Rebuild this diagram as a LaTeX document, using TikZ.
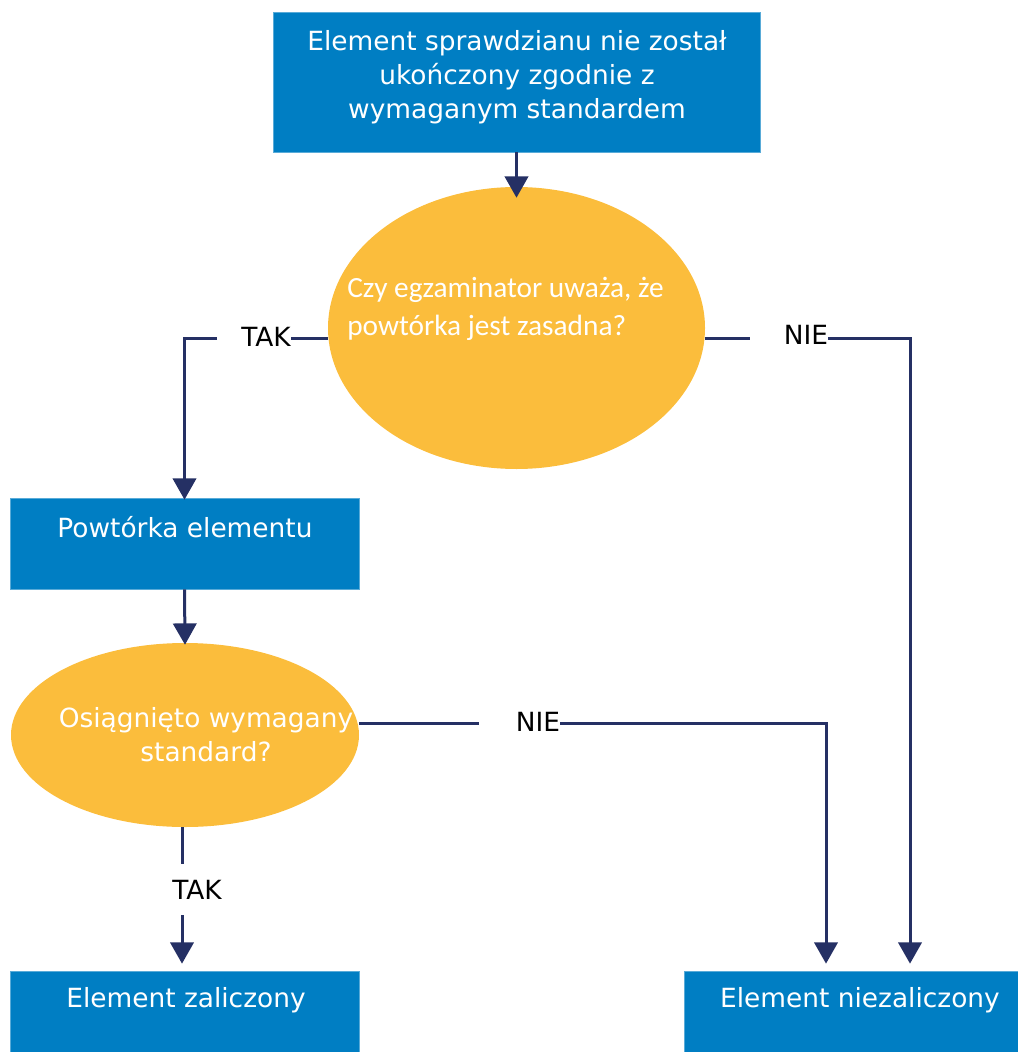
\documentclass[tikz,border=0pt]{standalone}
\usepackage{fontspec}
\setmainfont{DejaVu Sans}
\newfontfamily\calib{Carlito}
\usetikzlibrary{shapes.geometric,arrows.meta}
\definecolor{boxblue}{RGB}{0,126,195}
\definecolor{decyellow}{RGB}{251,189,60}
\definecolor{navy}{RGB}{37,48,100}
\tikzset{
  pbox/.style={rectangle, fill=boxblue, draw=boxblue!65!white, line width=0.5pt, inner sep=0pt},
  pdec/.style={ellipse, fill=decyellow, inner sep=0pt},
  wtxt/.style={text=white, inner sep=0pt, font=\fontsize{19.8pt}{25.5pt}\selectfont},
  lbl/.style={text=black, inner sep=0pt, font=\fontsize{19.8pt}{25.5pt}\selectfont},
  conn/.style={draw=navy, line width=2.25pt},
  arr/.style={conn, -{Triangle[width=17.5pt,length=16pt]}},
}
\begin{document}
\begin{tikzpicture}[x=0.75pt,y=-0.75pt]
\useasboundingbox (0,0) rectangle (1017,1052);
% shapes
\node[pbox, minimum width=487*0.75pt, minimum height=140*0.75pt] (b1) at (516.5,82) {};
\node[pdec, minimum width=377*0.75pt, minimum height=282*0.75pt] (e1) at (516.5,328) {};
\node[pbox, minimum width=349*0.75pt, minimum height=91*0.75pt] (b2) at (184.5,543.5) {};
\node[pdec, minimum width=348*0.75pt, minimum height=184*0.75pt] (e2) at (185,735) {};
\node[pbox, minimum width=349*0.75pt, minimum height=84*0.75pt] (b3) at (184.5,1013) {};
\node[pbox, minimum width=336*0.75pt, minimum height=84*0.75pt] (b4) at (852,1013) {};
% texts
\node[wtxt, align=center] (t1) at (517,77) {Element sprawdzianu nie został\\ukończony zgodnie z\\wymaganym standardem};
\node[wtxt, align=left, anchor=west, font=\calib\fontsize{22pt}{28.5pt}\selectfont] (t2) at (347,309) {Czy egzaminator uważa, że\\powtórka jest zasadna?};
\node[wtxt, anchor=base] (t3) at (185,537) {Powtórka elementu};
\node[wtxt, align=center] (t4) at (206,735) {Osiągnięto wymagany\\standard?};
\node[wtxt, anchor=base] (t5) at (186,1007) {Element zaliczony};
\node[wtxt, anchor=base] (t6) at (860,1007) {Element niezaliczony};
% labels
\node[lbl, anchor=base] (tak1) at (266,346) {TAK};
\node[lbl, anchor=base] (nie1) at (806,344) {NIE};
\node[lbl, anchor=base] (nie2) at (538,731) {NIE};
\node[lbl, anchor=base] (tak2) at (197,899) {TAK};
% connector helper coordinates
\coordinate (tak1l) at (217,338);
\coordinate (nie1l) at (750,338);
\coordinate (nie2l) at (479,723);
\coordinate (tak2a) at (182,864);
\coordinate (tak2b) at (182,915);
% connectors
\draw[arr] (b1.south) -- ([yshift=-8.25pt]e1.north);
\draw[conn] (e1.west |- tak1l) -- (tak1.east |- tak1l);
\draw[arr] (tak1l) -| ([yshift=-1.5pt]b2.north);
\draw[conn] (e1.east |- nie1l) -- (nie1l);
\draw[arr, shorten >=5.25pt] (nie1.east |- nie1l) -| ([xshift=43.5pt]b4.north);
\draw[arr] (b2.south) -- ([yshift=-1.5pt]e2.north);
\draw[conn] (e2.east |- nie2l) -- (nie2l);
\draw[arr, shorten >=5.25pt] (nie2.east |- nie2l) -| ([xshift=-19.5pt]b4.north);
\draw[conn] (tak2a |- e2.south) -- (tak2a);
\draw[arr, shorten >=5.25pt] (tak2b) -- (tak2b |- b3.north);
\end{tikzpicture}
\end{document}
